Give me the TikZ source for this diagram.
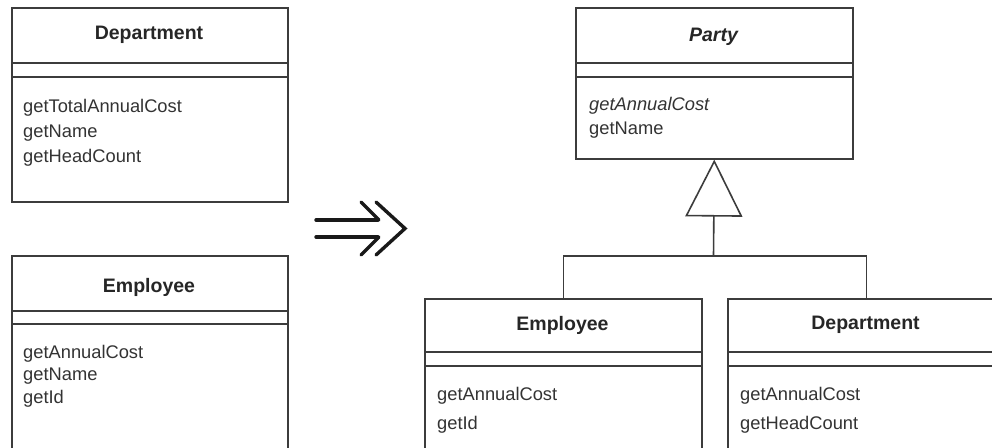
\documentclass[tikz,border=0pt]{standalone}
\usepackage{fontspec}
\setmainfont{Liberation Sans}
\usetikzlibrary{arrows.meta}
\definecolor{ink}{HTML}{3C3C3C}
\definecolor{txt}{HTML}{333333}
\tikzset{
  umlbox/.style={draw=ink, line width=1.6pt, rectangle, inner sep=0pt, minimum width=277pt, anchor=north west},
  cname/.style={font=\fontsize{19.5}{22}\selectfont\bfseries, text=black!85, inner sep=0pt},
  member/.style={font=\fontsize{18.3}{22}\selectfont, text=txt, inner sep=0pt, anchor=base west},
  sep/.style={draw=ink, line width=1.6pt},
  link/.style={draw=ink, line width=1.6pt},
  inh/.style={link, -{Triangle[open, length=57pt, width=57pt, line width=1.6pt]}},
  bigarrow/.style={draw=black!90, line width=3.4pt, line cap=round, line join=miter}
}
\begin{document}
\begin{tikzpicture}[x=1pt, y=-1pt]
\clip (0,0) rectangle (992,447);
\fill[white] (0,0) rectangle (992,447);

% ---- left: Department
\node[umlbox, minimum width=276pt, minimum height=194pt] (dep1) at (11,7) {};
\node[cname] (dep1t) at (149,35) {Department};
\draw[sep] (dep1.west |- 0,63) -- (dep1.east |- 0,63);
\draw[sep] (dep1.west |- 0,77) -- (dep1.east |- 0,77);
\node[member] (dep1a) at (23,112) {getTotalAnnualCost};
\node[member] (dep1b) at (23,137) {getName};
\node[member] (dep1c) at (23,162) {getHeadCount};

% ---- left: Employee
\node[umlbox, minimum width=276pt, minimum height=230pt] (emp1) at (11,255) {};
\node[cname] (emp1t) at (149,287) {Employee};
\draw[sep] (emp1.west |- 0,311) -- (emp1.east |- 0,311);
\draw[sep] (emp1.west |- 0,324) -- (emp1.east |- 0,324);
\node[member] (emp1a) at (23,358) {getAnnualCost};
\node[member] (emp1b) at (23,380) {getName};
\node[member] (emp1c) at (23,403) {getId};

% ---- transformation arrow
\draw[bigarrow] (316,220) -- (378,220);
\draw[bigarrow] (316,237) -- (378,237);
\draw[bigarrow] (361,202) -- (379,220);
\draw[bigarrow] (379,237) -- (361,255);
\draw[bigarrow] (376,202) -- (405,228.5) -- (376,255);

% ---- right: Party
\node[umlbox, minimum height=151pt] (party) at (575,7) {};
\node[cname, font=\fontsize{19.5}{22}\selectfont\bfseries\itshape] (partyt) at (713.5,37) {Party};
\draw[sep] (party.west |- 0,63) -- (party.east |- 0,63);
\draw[sep] (party.west |- 0,77) -- (party.east |- 0,77);
\node[member, font=\fontsize{18.3}{22}\selectfont\itshape] (partya) at (589,110) {getAnnualCost};
\node[member] (partyb) at (589,134) {getName};

% ---- right: Employee
\node[umlbox, minimum height=200pt] (emp2) at (424,298) {};
\node[cname] (emp2t) at (562.5,325) {Employee};
\draw[sep] (emp2.west |- 0,352) -- (emp2.east |- 0,352);
\draw[sep] (emp2.west |- 0,366) -- (emp2.east |- 0,366);
\node[member] (emp2a) at (437,400) {getAnnualCost};
\node[member] (emp2b) at (437,429) {getId};

% ---- right: Department
\node[umlbox, minimum height=200pt] (dep2) at (727,298) {};
\node[cname] (dep2t) at (865.5,325) {Department};
\draw[sep] (dep2.west |- 0,352) -- (dep2.east |- 0,352);
\draw[sep] (dep2.west |- 0,366) -- (dep2.east |- 0,366);
\node[member] (dep2a) at (740,400) {getAnnualCost};
\node[member] (dep2b) at (740,429) {getHeadCount};

% ---- generalization
\coordinate (j) at (713.5,256);
\draw[link] (emp2.north) |- (j) -| (dep2.north);
\draw[inh] (j) -- (party.south);
\end{tikzpicture}
\end{document}
